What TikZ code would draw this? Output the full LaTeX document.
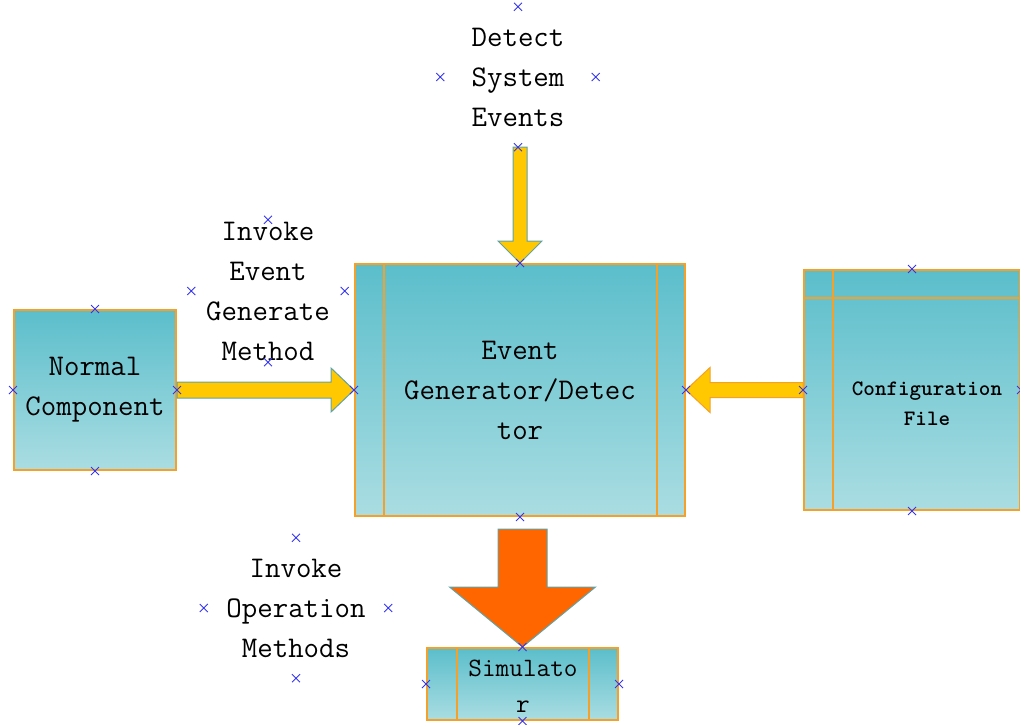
\documentclass[tikz,border=0pt]{standalone}
\usepackage{fontspec}
\usetikzlibrary{calc}

\definecolor{boxtop}{HTML}{5BBECB}
\definecolor{boxbot}{HTML}{AADDE2}
\definecolor{edge}{HTML}{F5A028}
\definecolor{flowy}{HTML}{FFC800}
\definecolor{flowo}{HTML}{FF6600}
\definecolor{rim}{HTML}{5FA3A6}
\definecolor{pin}{HTML}{3535F0}

\tikzset{
  box/.style={draw=edge, line width=2pt, top color=boxtop, bottom color=boxbot,
    inner sep=0pt, align=center, font=\ttfamily\fontsize{30}{40}\selectfont},
  divider/.style={draw=edge, line width=2pt},
  note/.style={inner sep=0pt, align=center, font=\ttfamily\fontsize{30}{40}\selectfont},
  yarrow/.style={fill=flowy, draw=rim, line width=1pt, line join=miter},
  oarrow/.style={fill=flowo, draw=rim, line width=1pt, line join=miter},
  pinmark/.style={draw=pin, line width=0.9pt},
}
% small blue connection crosses on the four sides of a node
\newcommand\pinat[1]{\draw[pinmark] ($(#1)+(-4,-4)$) -- ($(#1)+(4,4)$) ($(#1)+(-4,4)$) -- ($(#1)+(4,-4)$);}
\newcommand\pins[1]{\pinat{#1.north}\pinat{#1.south}\pinat{#1.east}\pinat{#1.west}}

\begin{document}
\begin{tikzpicture}[x=1pt,y=-1pt]
\useasboundingbox (0,0) rectangle (1020,725);

% boxes
\node[box, minimum width=162pt, minimum height=160pt] (nc) at (95,390) {Normal\\Component};
\node[box, minimum width=330pt, minimum height=252pt] (ev) at (520,390) {Event\\Generator/Detec\\tor};
\node[box, minimum width=216pt, minimum height=240pt] (cf) at (912,390) {};
\node[box, minimum width=191pt, minimum height=72pt] (sim) at (522.5,684) {};

% inner divider lines
\draw[divider] ([xshift=30pt]ev.north west) -- ([xshift=30pt]ev.south west);
\draw[divider] ([xshift=-29pt]ev.north east) -- ([xshift=-29pt]ev.south east);
\draw[divider] ([xshift=30pt]cf.north west) -- ([xshift=30pt]cf.south west);
\draw[divider] ([yshift=-29pt]cf.north west) -- ([yshift=-29pt]cf.north east);
\draw[divider] ([xshift=31pt]sim.north west) -- ([xshift=31pt]sim.south west);
\draw[divider] ([xshift=-30pt]sim.north east) -- ([xshift=-30pt]sim.south east);

% texts of the divided boxes
\node[inner sep=0pt, align=center, font=\ttfamily\bfseries\fontsize{22}{30}\selectfont] (cft) at (927,404) {Configuration\\File};
\node[inner sep=0pt, align=center, font=\ttfamily\fontsize{26.5}{36}\selectfont] (simt) at (523,686) {Simulato\\r};

% free labels
\node[note, minimum width=155pt, minimum height=140pt] (det) at (518,77) {Detect\\System\\Events};
\node[note, minimum width=153pt, minimum height=142pt] (inv) at (268,291) {Invoke\\Event\\Generate\\Method};
\node[note, minimum width=184pt, minimum height=140pt] (ops) at (296,608) {Invoke\\Operation\\Methods};

% block arrows
\coordinate (ta) at (det.south -| ev.north);
\draw[yarrow] ($(ta)+(-7,0)$) -- ($(ev.north)+(-7,-22)$) -- ($(ev.north)+(-22,-22)$) -- (ev.north)
  -- ($(ev.north)+(22,-22)$) -- ($(ev.north)+(7,-22)$) -- ($(ta)+(7,0)$) -- cycle;

\draw[yarrow] ($(nc.east)+(0,-8)$) -- ($(ev.west)+(-23,-8)$) -- ($(ev.west)+(-23,-22)$) -- (ev.west)
  -- ($(ev.west)+(-23,22)$) -- ($(ev.west)+(-23,8)$) -- ($(nc.east)+(0,8)$) -- cycle;

\draw[yarrow, draw=edge] ($(cf.west)+(0,-7.5)$) -- ($(ev.east)+(24,-7.5)$) -- ($(ev.east)+(24,-22.5)$) -- (ev.east)
  -- ($(ev.east)+(24,22.5)$) -- ($(ev.east)+(24,7.5)$) -- ($(cf.west)+(0,7.5)$) -- cycle;

\coordinate (ob) at (ev.south -| sim.north);
\draw[oarrow] ($(ob)+(-24.5,12)$) -- ($(sim.north)+(-24.5,-60)$) -- ($(sim.north)+(-73,-60)$) -- (sim.north)
  -- ($(sim.north)+(73,-60)$) -- ($(sim.north)+(24.5,-60)$) -- ($(ob)+(24.5,12)$) -- cycle;

% connection crosses
\pins{nc}\pins{ev}\pins{cf}\pins{sim}
\pins{det}\pins{inv}\pins{ops}
\end{tikzpicture}
\end{document}
